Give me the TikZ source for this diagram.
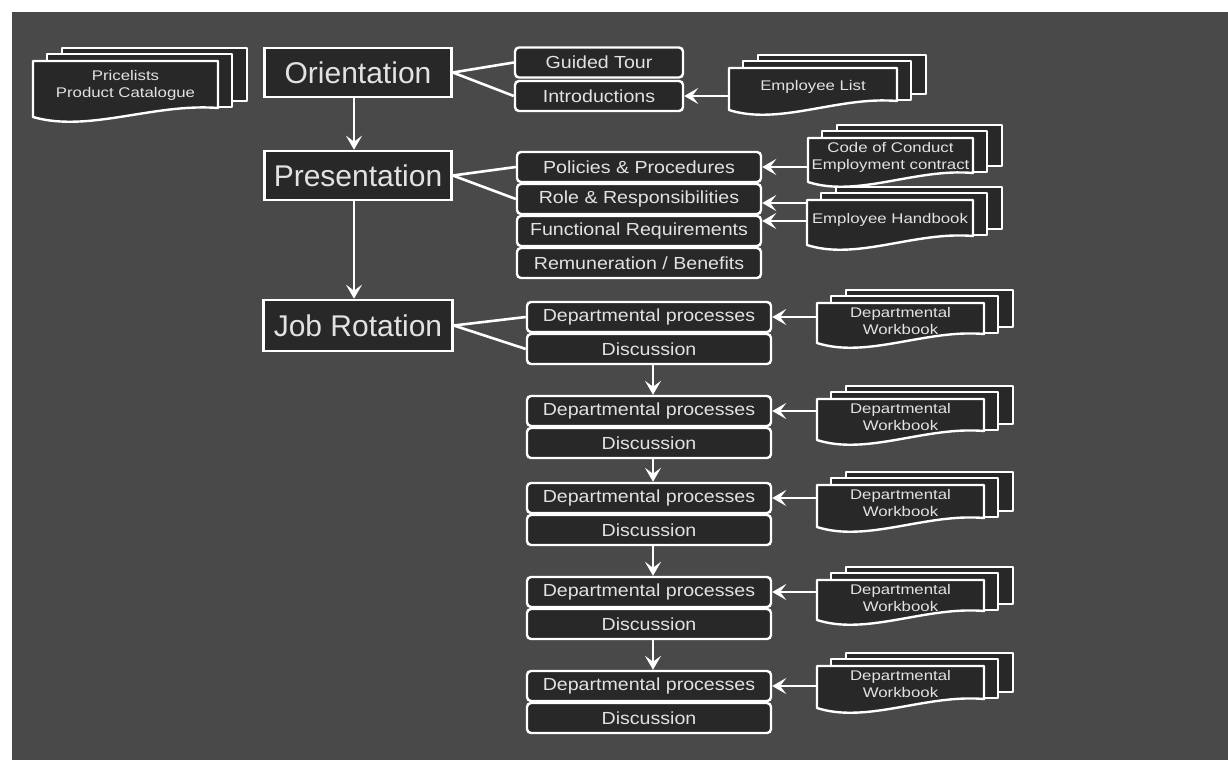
\documentclass[tikz,border=0pt]{standalone}
\usepackage{fontspec}
\setmainfont{Liberation Sans}
\newfontfamily\subfont[FakeStretch=1.12]{Liberation Sans}
\newfontfamily\docfont[FakeStretch=1.2]{Liberation Sans}
\usetikzlibrary{arrows.meta}

\definecolor{panel}{HTML}{494949}
\definecolor{boxfill}{HTML}{282828}
\definecolor{inktext}{HTML}{E2E2E2}

\tikzset{
  mainbox/.style={draw=white, line width=2.6pt, fill=boxfill, inner sep=0pt,
    font=\fontsize{30}{34}\selectfont, text=inktext},
  subbox/.style={draw=white, line width=2.4pt, fill=boxfill, rounded corners=4pt,
    inner sep=0pt, font=\subfont\fontsize{17.5}{20}\selectfont, text=inktext},
  deptbox/.style={subbox, minimum width=244pt, minimum height=30pt},
  docline/.style={draw=white, line width=2.4pt, fill=boxfill, line join=round},
  doctext/.style={align=center, inner sep=0pt, text=inktext,
    font=\docfont\fontsize{14}{17}\selectfont},
  link/.style={draw=white, line width=2.6pt},
  flow/.style={link, -{Stealth[length=14pt,width=16pt,inset=6pt]}},
}

% stack of three sheets; front sheet has a wavy lower edge
% #1 name, #2 left, #3 top, #4 width, #5 height, #6 text
\newcommand\docstack[6]{%
  \draw[docline] (#2+29,#3-13) rectangle (#2+#4+29,#3+#5-16);
  \draw[docline] (#2+14,#3-7) rectangle (#2+#4+14,#3+#5-10);
  \draw[docline] (#2,#3) -- (#2+#4,#3) -- (#2+#4,#3+#5-9)
    .. controls (#2+0.65*#4,#3+#5-14) and (#2+0.3*#4,#3+#5+16) .. (#2,#3+#5) -- cycle;
  \coordinate (#1-nw) at (#2,#3);
  \node[doctext] (#1) at (#2+0.5*#4,#3+0.44*#5) {#6};
}

\begin{document}
\begin{tikzpicture}[x=1pt,y=-1pt]
\useasboundingbox (0,0) rectangle (1228,762);
\fill[white] (0,0) rectangle (1228,762);
\fill[panel] (12,12) rectangle (1228,760);

% main stages
\node[mainbox, minimum width=187pt, minimum height=49pt] (ori) at (358,72.5) {Orientation};
\node[mainbox, minimum width=187pt, minimum height=49pt] (pres) at (358,175.5) {Presentation};
\node[mainbox, minimum width=189pt, minimum height=51pt] (job) at (358,325.5) {Job Rotation};

% orientation items
\node[subbox, minimum width=168pt, minimum height=30pt] (tour) at (599,62.5) {Guided Tour};
\node[subbox, minimum width=168pt, minimum height=30pt] (intro) at (599,96) {Introductions};

% presentation items
\node[deptbox] (pol) at (639,167) {Policies \& Procedures};
\node[deptbox] (role) at (639,199) {Role \& Responsibilities};
\node[deptbox] (func) at (639,231) {Functional Requirements};
\node[deptbox] (rem) at (639,263) {Remuneration / Benefits};

% job rotation blocks
\foreach \i/\t in {1/302,2/396,3/483,4/577,5/671}{
  \node[deptbox] (dep\i) at (649,\t+15) {Departmental processes};
  \node[deptbox] (dis\i) at (649,\t+47) {Discussion};
}

% document stacks
\docstack{price}{33}{61}{185}{56}{Pricelists\\Product Catalogue}
\docstack{elist}{729}{68}{168}{42}{Employee List}
\docstack{code}{808}{138}{165}{44}{Code of Conduct\\Employment contract}
\docstack{hand}{807}{200}{166}{45}{Employee Handbook}
\docstack{wb1}{817}{303}{167}{40}{Departmental\\Workbook}
\docstack{wb2}{817}{399}{167}{41}{Departmental\\Workbook}
\docstack{wb3}{817}{485}{167}{42}{Departmental\\Workbook}
\docstack{wb4}{817}{580}{167}{40}{Departmental\\Workbook}
\docstack{wb5}{817}{666}{167}{42}{Departmental\\Workbook}

% stage sequence
\draw[flow] ([xshift=-4pt]ori.south) -- ([xshift=-4pt]pres.north);
\draw[flow] ([xshift=-4pt]pres.south) -- ([xshift=-4pt]job.north);

% fan-out lines
\draw[link] (ori.east) -- (tour.west);
\draw[link] (ori.east) -- (intro.west);
\draw[link] (pres.east) -- (pol.west);
\draw[link] (pres.east) -- (role.west);
\draw[link] (job.east) -- (dep1.west);
\draw[link] (job.east) -- (dis1.west);

% rotation sequence
\foreach \a/\b in {1/2,2/3,3/4,4/5}{
  \draw[flow] ([xshift=4pt]dis\a.south) -- ([xshift=4pt]dep\b.north);
}

% document inputs
\coordinate (rolein) at ([yshift=-4pt]role.east);
\coordinate (funcin) at ([yshift=10pt]func.east);
\draw[flow] (elist-nw |- intro.east) -- (intro.east);
\draw[flow] (code-nw |- pol.east) -- (pol.east);
\draw[flow] (hand-nw |- rolein) -- (rolein);
\draw[flow] (hand-nw |- funcin) -- (funcin);
\foreach \i in {1,...,5}{
  \draw[flow] (wb\i-nw |- dep\i.east) -- (dep\i.east);
}
\end{tikzpicture}
\end{document}
